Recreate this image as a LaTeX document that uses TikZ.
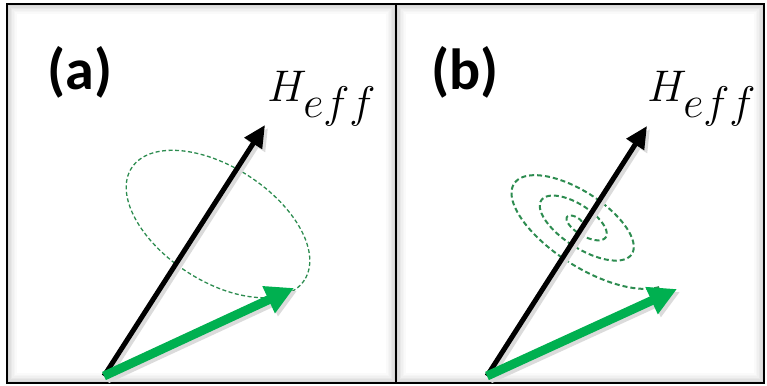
\documentclass[tikz,border=0pt]{standalone}
\usepackage{fontspec}
\newfontfamily\labelfont{Carlito}
\usetikzlibrary{arrows.meta}
\definecolor{spingreen}{HTML}{00B050}
\definecolor{orbitgreen}{RGB}{45,140,80}

\begin{document}
\begin{tikzpicture}[
        x=1pt, y=-1pt,
        frame/.style={draw=black, line width=2.5pt},
        panel/.style={font=\labelfont\bfseries\fontsize{58}{62}\selectfont, inner sep=0pt},
        field/.style={font=\Huge, scale=1.78, transform shape, inner sep=0pt, anchor=base west},
        heff/.style={-{Triangle[length=22pt, width=20pt]}, line width=5pt, black},
        spin/.style={-{Triangle[length=28pt, width=28pt]}, line width=9pt, spingreen},
        orbit/.style={orbitgreen, line width=1.3pt, dash pattern=on 4pt off 2.5pt},
        spiral/.style={orbitgreen, line width=2pt, dash pattern=on 5pt off 3pt},
        shadow/.style={black!14}
    ]
    \useasboundingbox (0,0) rectangle (767,385);

    % Panels
    \foreach \i/\g in {1/16,2/12,3/9,4/6,5/4,6/2} {
        \draw[black!\g, line width=1.6pt] (7+1.5*\i,4+1.5*\i) rectangle (396-1.5*\i,383-1.5*\i);
        \draw[black!\g, line width=1.6pt] (396+1.5*\i,4+1.5*\i) rectangle (764-1.5*\i,383-1.5*\i);
    }
    \draw [frame] (7,4) rectangle (396,383);
    \draw [frame] (396,4) rectangle (764,383);

    % Nodes
    \node (label_a) [panel] at (80,72) {(a)};
    \node (label_b) [panel] at (465,72) {(b)};

    \node (field_a) [field] at (267,102) {$H_{\textstyle eff}$};
    \node (field_b) [field] at (647,102) {$H_{\textstyle eff}$};

    \coordinate (origin_a) at (104,376);
    \coordinate (heff_tip_a) at (265,125);
    \coordinate (spin_tip_a) at (294,288);
    \coordinate (origin_b) at (487,376);
    \coordinate (heff_tip_b) at (647,126);
    \coordinate (spin_tip_b) at (677,289);

    % Precession (a)
    \draw [orbit, rotate around={-33:(218,224)}] (218,224) ellipse [x radius=103, y radius=57];

    % Damped precession (b)
    \begin{scope}[shift={(580,223)}, rotate=-33]
        \draw [spiral] plot [domain=0.15:2.9, samples=400, variable=\t]
            ({(0.3*\t+0.14*(max(0,\t-2.3)/0.6)^2)*104*cos(10+360*(2.9-\t))},
             {(0.3*\t+0.14*(max(0,\t-2.3)/0.6)^2)*45*sin(10+360*(2.9-\t))});
    \end{scope}

    % Arrows
    \draw [heff, shadow] ([shift={(3,3)}]origin_a) -- ([shift={(3,3)}]heff_tip_a);
    \draw [spin, shadow] ([shift={(3,3)}]origin_a) -- ([shift={(3,3)}]spin_tip_a);
    \draw [heff] (origin_a) -- (heff_tip_a);
    \draw [spin] (origin_a) -- (spin_tip_a);

    \draw [heff, shadow] ([shift={(3,3)}]origin_b) -- ([shift={(3,3)}]heff_tip_b);
    \draw [spin, shadow] ([shift={(3,3)}]origin_b) -- ([shift={(3,3)}]spin_tip_b);
    \draw [heff] (origin_b) -- (heff_tip_b);
    \draw [spin] (origin_b) -- (spin_tip_b);

\end{tikzpicture}
\end{document}
